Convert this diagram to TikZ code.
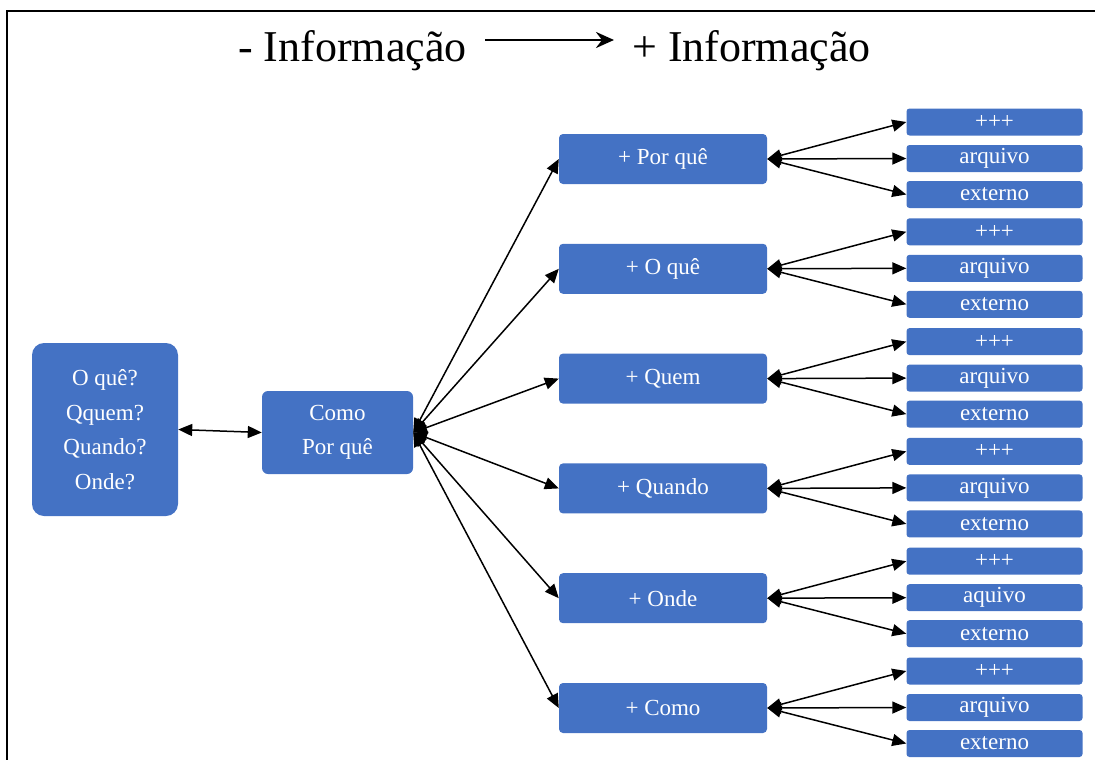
\documentclass[tikz,border=0pt]{standalone}
\usepackage{fontspec}
\setmainfont{Liberation Serif}
\usetikzlibrary{arrows.meta}
\definecolor{boxblue}{HTML}{4472C4}
\begin{document}
\begin{tikzpicture}[x=1pt,y=-1pt,
  bluebox/.style={fill=boxblue, text=white, inner sep=0pt, align=center,
    font=\fontsize{23}{34.5}\selectfont},
  bothway/.style={{Triangle[length=14pt,width=12pt]}-{Triangle[length=14pt,width=12pt]}, line width=1.5pt},
  titletext/.style={font=\fontsize{44}{50}\selectfont, anchor=base, inner sep=0pt}
]
\useasboundingbox (0,0) rectangle (1095,760);
\draw[line width=2.2pt] (1097,11) -- (7,11) -- (7,762);

% title
\node[titletext] (t1) at (352.5,62) {- Informação};
\node[titletext] (t2) at (751.5,62) {+ Informação};
\coordinate (a1) at (485,40);
\coordinate (a2) at (614,40);
\draw[line width=2.8pt, -{Stealth[length=18pt,width=16pt,inset=6pt]}] (a1) -- (a2);

% left and middle boxes
\node[bluebox, rounded corners=12pt, minimum width=146pt, minimum height=173pt] (left) at (105,429.5)
  {O quê?\\Qquem?\\Quando?\\Onde?};
\node[bluebox, rounded corners=6pt, minimum width=151pt, minimum height=83pt] (mid) at (337.5,432.5)
  {Como\\Por quê};
\draw[bothway] (left.east) -- (mid.west);

% second and third level
\foreach \i/\lab/\arq in {0/{+ Por quê}/arquivo, 1/{+ O quê}/arquivo, 2/{+ Quem}/arquivo,
                          3/{+ Quando}/arquivo, 4/{+ Onde}/aquivo, 5/{+ Como}/arquivo} {
  \pgfmathsetmacro{\yy}{159+109.8*\i}
  \node[bluebox, rounded corners=4pt, minimum width=208pt, minimum height=50pt] (p\i) at (663,\yy) {\lab};
  \node[bluebox, rounded corners=3pt, minimum width=176pt, minimum height=27pt] (q\i a) at (994.5,\yy-37) {+++};
  \node[bluebox, rounded corners=3pt, minimum width=176pt, minimum height=27pt] (q\i b) at (994.5,\yy-0.5) {\arq};
  \node[bluebox, rounded corners=3pt, minimum width=176pt, minimum height=27pt] (q\i c) at (994.5,\yy+35.5) {externo};
  \draw[bothway] (mid.east) -- (p\i.west);
  \draw[bothway] (p\i.east) -- (q\i a.west);
  \draw[bothway] (p\i.east) -- (q\i b.west);
  \draw[bothway] (p\i.east) -- (q\i c.west);
}
\end{tikzpicture}
\end{document}
